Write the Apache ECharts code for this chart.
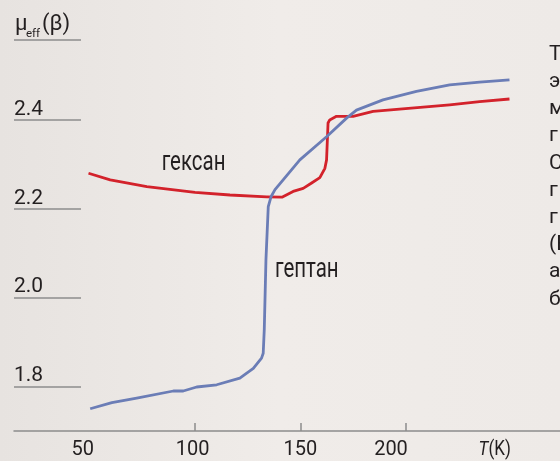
<!DOCTYPE html>
<html><head><meta charset="utf-8">
<script src="https://cdn.jsdelivr.net/npm/echarts@6/dist/echarts.min.js"></script>
<style>html,body{margin:0;padding:0;background:#ece8e5}#c{width:560px;height:461px}</style>
</head><body><div id="c"></div>
<script>
// ---- data ----
const hexaneT  = [49.4, 59.7, 77.1, 100, 116.6, 134.0, 141.3, 146.6, 151.4, 155.4, 159.3, 161.7, 162.5, 163.2, 164.0, 167.2, 175.1, 184.6, 197.2, 221.0, 235.2, 249.4];
const hexaneMu = [2.280, 2.265, 2.250, 2.237, 2.231, 2.227, 2.226, 2.239, 2.246, 2.258, 2.270, 2.291, 2.310, 2.393, 2.400, 2.408, 2.408, 2.419, 2.424, 2.434, 2.441, 2.447];
const heptaneT  = [50.2, 60.5, 72.3, 89.7, 94.4, 100.8, 110.3, 121.3, 127.7, 131.6, 132.4, 132.9, 133.7, 134.8, 136.1, 138.0, 149.8, 162.5, 172.0, 176.7, 189.3, 205.2, 221.0, 235.2, 249.4];
const heptaneMu = [1.750, 1.764, 1.774, 1.790, 1.790, 1.799, 1.804, 1.819, 1.841, 1.864, 1.875, 1.928, 2.085, 2.205, 2.227, 2.243, 2.310, 2.362, 2.404, 2.422, 2.445, 2.464, 2.479, 2.485, 2.490];
const xTickValues  = [100, 150, 200];
const xLabelValues = [50, 100, 150, 200];
const yTickValues  = [1.8, 2.0, 2.2, 2.4];
const seriesNames  = ['гексан', 'гептан'];
const xAxisTitle   = 'T(K)';
const yAxisTitle   = ['μ', 'eff', '(β)'];
const sideText     = ['Т', 'э', 'м', 'г', 'С', 'г', 'г', '(Е', 'а', 'б'];

// ---- styling ----
const FONT = 'Roboto, "Liberation Sans", sans-serif';
const TXT = '#231f20';
const AX = '#8c8c8c';
const RED = '#d3222b';
const BLUE = '#6b7db6';
const xLabelPadRight = {50: 14, 100: 5, 150: 0, 200: 29};

const richX = {};
xLabelValues.forEach(v => {
  richX['s' + v] = {fontFamily: FONT, fontSize: 20, color: TXT, padding: [0, xLabelPadRight[v] || 0, 0, 0]};
});

const zip = (a, b) => a.map((t, i) => [t, b[i]]);

const graphic = [
  {type: 'text', x: 15, y: 24, style: {text: yAxisTitle[0], fontFamily: FONT, fontSize: 22, fill: TXT, align: 'left', verticalAlign: 'middle'}},
  {type: 'text', x: 26, y: 34, style: {text: yAxisTitle[1], fontFamily: FONT, fontSize: 11.5, fill: TXT, align: 'left', verticalAlign: 'middle'}},
  {type: 'text', x: 42, y: 24, style: {text: yAxisTitle[2], fontFamily: FONT, fontSize: 22, fill: TXT, align: 'left', verticalAlign: 'middle'}},
  {type: 'line', shape: {x1: 14, y1: 40, x2: 81, y2: 40}, style: {stroke: AX, lineWidth: 1.5}},
  {type: 'text', x: 161.7, y: 162.5, scaleX: 0.73, style: {text: seriesNames[0], fontFamily: FONT, fontSize: 28, fill: TXT, align: 'left', verticalAlign: 'middle'}},
  {type: 'text', x: 275, y: 270, scaleX: 0.73, style: {text: seriesNames[1], fontFamily: FONT, fontSize: 28, fill: TXT, align: 'left', verticalAlign: 'middle'}},
  {type: 'text', x: 478.6, y: 450, scaleX: 0.85, style: {text: '{i|T}(K)', fontFamily: FONT, fontSize: 20, fill: TXT, align: 'left', verticalAlign: 'middle',
     rich: {i: {fontStyle: 'italic', fontFamily: FONT, fontSize: 20, fill: TXT}}}}
];
sideText.forEach((s, i) => {
  graphic.push({type: 'text', x: 549, y: 54.5 + i * 27.2, style: {text: s, fontFamily: FONT, fontSize: 21, fill: TXT, align: 'left', verticalAlign: 'middle'}});
});

const option = {
  animation: false,
  backgroundColor: {type: 'linear', x: 0, y: 0, x2: 1, y2: 0, colorStops: [
    {offset: 0, color: '#e7e3e0'}, {offset: 0.5, color: '#f0ece9'}, {offset: 1, color: '#eeeae7'}]},
  grid: [
    {left: 14, right: 0, top: 31, bottom: 30},
    {left: 14, width: 67, top: 31, bottom: 30}
  ],
  xAxis: [
    {type: 'value', gridIndex: 0, min: 14, max: 273.4,
     axisLine: {lineStyle: {color: AX, width: 1.5}},
     axisTick: {inside: true, length: 8, customValues: xTickValues, lineStyle: {color: AX, width: 1.5}},
     axisLabel: {customValues: xLabelValues, margin: 9, fontFamily: FONT, fontSize: 20, color: TXT,
                 formatter: v => '{s' + v + '|' + v + '}', rich: richX},
     splitLine: {show: false}},
    {type: 'value', gridIndex: 1, min: 0, max: 1, show: false}
  ],
  yAxis: [
    {type: 'value', gridIndex: 0, min: 1.7, max: 2.6, show: false},
    {type: 'value', gridIndex: 1, min: 1.7, max: 2.6,
     axisLine: {show: false},
     axisTick: {show: false, customValues: yTickValues},
     axisLabel: {inside: true, customValues: yTickValues, margin: 0, align: 'left', verticalAlign: 'bottom',
                 fontFamily: FONT, fontSize: 21, color: TXT, formatter: v => Number(v).toFixed(1)},
     splitLine: {show: true, lineStyle: {color: AX, width: 1.5}}}
  ],
  series: [
    {name: seriesNames[0], type: 'line', xAxisIndex: 0, yAxisIndex: 0, data: zip(hexaneT, hexaneMu),
     symbol: 'none', lineStyle: {color: RED, width: 2.8, join: 'round'}, z: 2},
    {name: seriesNames[1], type: 'line', xAxisIndex: 0, yAxisIndex: 0, data: zip(heptaneT, heptaneMu),
     symbol: 'none', lineStyle: {color: BLUE, width: 2.8, join: 'round'}, z: 3}
  ],
  graphic: graphic
};
const chart = echarts.init(document.getElementById('c'), null, {renderer: 'canvas'});
chart.setOption(option);
</script>
</body></html>
